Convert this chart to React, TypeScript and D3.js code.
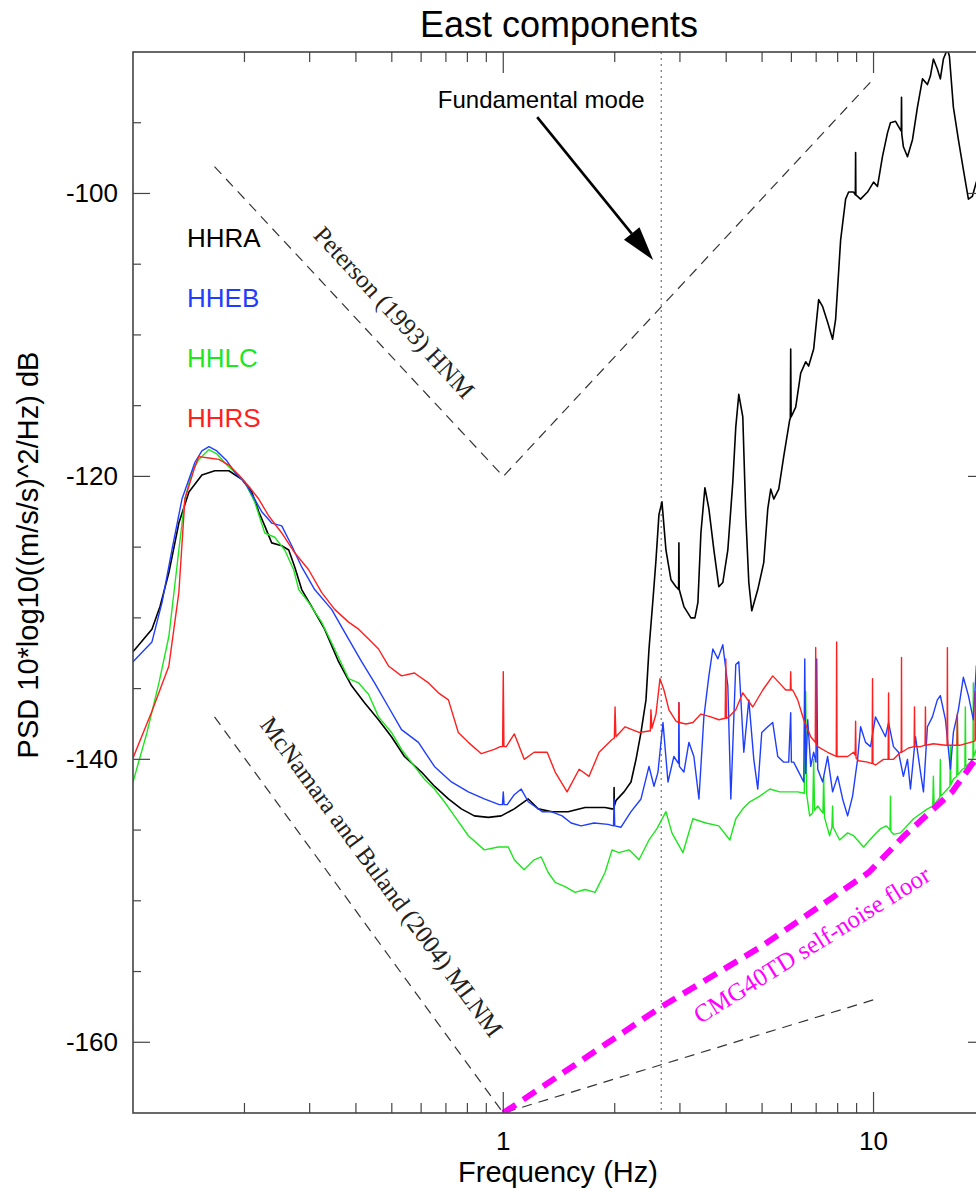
import React from 'react';
import * as d3 from 'd3';

type Pt = [number, number]; // [frequency (Hz), PSD (dB)]

// ---- PSD curves, east components -------------------------------------------
const hhra: Pt[] = [
  [0.1, -132.4], [0.1125, -130.8], [0.1183, -129.2], [0.125, -126.8], [0.133, -123.3], [0.1416, -121.1],
  [0.1535, -119.9], [0.1663, -119.6], [0.1815, -119.6], [0.1967, -120.2], [0.2093, -121.1], [0.2186, -122.5],
  [0.2269, -123.5], [0.2369, -124.7], [0.2522, -124.9], [0.2634, -125.2], [0.2734, -126.4], [0.2855, -128.0],
  [0.3038, -129.2], [0.3292, -130.8], [0.3591, -133.1], [0.3894, -134.8], [0.422, -136.0], [0.4603, -137.2],
  [0.499, -138.4], [0.5409, -139.8], [0.6012, -140.9], [0.6517, -141.9], [0.7109, -142.8], [0.7704, -143.5],
  [0.8353, -144.0], [0.9111, -144.1], [0.9876, -144.0], [1.071, -143.5], [1.168, -142.8], [1.243, -143.5],
  [1.355, -143.7], [1.497, -143.7], [1.663, -143.4], [1.883, -143.4], [1.967, -143.5], [1.99, -143.5],
  [1.992, -142.0], [1.995, -143.3], [2.017, -142.9], [2.119, -142.3], [2.213, -141.6], [2.283, -140.0],
  [2.355, -138.1], [2.429, -135.8], [2.475, -132.2], [2.537, -128.7], [2.585, -125.9], [2.633, -122.7],
  [2.683, -121.8], [2.75, -125.2], [2.837, -127.3], [2.927, -127.8], [2.975, -128.0], [2.981, -124.7],
  [2.987, -128.0], [3.075, -129.2], [3.212, -130.0], [3.293, -130.0], [3.355, -128.9], [3.418, -124.0],
  [3.504, -120.8], [3.592, -122.3], [3.705, -125.2], [3.821, -127.8], [3.917, -127.5], [4.041, -125.2],
  [4.168, -120.4], [4.246, -116.5], [4.326, -114.2], [4.435, -115.8], [4.519, -122.8], [4.604, -127.5],
  [4.69, -129.5], [4.868, -128.0], [5.052, -126.1], [5.18, -122.3], [5.277, -120.9], [5.377, -121.6],
  [5.546, -120.9], [5.72, -118.6], [5.937, -116.0], [5.96, -115.9], [5.974, -111.0], [5.99, -115.8],
  [6.163, -115.1], [6.358, -112.7], [6.557, -111.9], [6.68, -112.2], [6.891, -111.0], [7.109, -107.5],
  [7.288, -108.0], [7.516, -109.1], [7.753, -110.3], [7.899, -108.9], [8.149, -103.3], [8.406, -100.4],
  [8.564, -99.9], [8.834, -99.9], [8.93, -100.1], [8.945, -97.1], [8.96, -100.1], [9.226, -100.4],
  [9.634, -99.9], [10.0, -99.2], [10.25, -99.5], [10.57, -97.4], [10.91, -95.7], [11.11, -95.0],
  [11.47, -94.9], [11.82, -95.5], [11.88, -95.6], [11.9, -93.2], [11.92, -95.8], [12.04, -96.7],
  [12.35, -97.4], [12.74, -96.2], [13.14, -93.9], [13.56, -91.9], [13.98, -92.3], [14.24, -91.7],
  [14.51, -90.5], [14.87, -91.2], [15.15, -91.9], [15.44, -90.5], [15.83, -89.8], [16.03, -90.3],
  [16.43, -93.9], [16.95, -96.2], [17.48, -98.3], [18.04, -100.4], [18.49, -100.2], [18.95, -99.2],
  [20.0, -98.0],
];

const hheb: Pt[] = [
  [0.1, -133.1], [0.1125, -131.7], [0.1198, -128.9], [0.1274, -125.2], [0.1356, -121.6], [0.147, -119.0],
  [0.1535, -118.2], [0.1603, -117.9], [0.1684, -118.2], [0.1792, -118.9], [0.1883, -119.7], [0.2003, -120.4],
  [0.2131, -121.6], [0.2227, -122.5], [0.2369, -123.3], [0.2522, -123.5], [0.2684, -124.9], [0.2855, -126.4],
  [0.3095, -128.0], [0.3439, -129.4], [0.3822, -131.5], [0.4144, -133.1], [0.4492, -134.6], [0.4898, -136.3],
  [0.5311, -137.9], [0.59, -138.8], [0.6517, -140.5], [0.7244, -141.6], [0.8048, -142.3], [0.8887, -142.8],
  [0.9755, -143.2], [0.995, -143.2], [1.0, -142.3], [1.005, -143.2], [1.025, -143.2], [1.071, -142.5],
  [1.118, -142.1], [1.168, -143.0], [1.274, -143.7], [1.347, -143.7], [1.442, -144.0], [1.525, -144.5],
  [1.623, -144.7], [1.759, -144.5], [1.919, -144.6], [1.985, -144.7], [1.992, -142.8], [2.0, -144.7],
  [2.08, -144.8], [2.213, -143.7], [2.355, -142.8], [2.475, -140.5], [2.553, -141.9], [2.617, -140.9],
  [2.7, -137.4], [2.785, -141.6], [2.889, -139.8], [2.975, -140.3], [2.981, -136.0], [2.99, -140.5],
  [3.075, -140.9], [3.172, -138.8], [3.272, -139.8], [3.376, -142.8], [3.482, -137.0], [3.592, -134.1],
  [3.681, -132.2], [3.798, -132.9], [3.917, -131.9], [4.041, -134.8], [4.117, -142.8], [4.246, -133.3],
  [4.326, -133.1], [4.463, -139.5], [4.604, -135.8], [4.749, -140.0], [4.868, -142.1], [4.99, -138.1],
  [5.18, -137.7], [5.343, -137.4], [5.512, -139.8], [5.72, -140.2], [5.9, -140.2], [5.974, -136.7],
  [6.0, -140.2], [6.086, -140.2], [6.281, -140.9], [6.479, -141.6], [6.52, -132.9], [6.56, -141.0],
  [6.642, -137.2], [6.766, -140.5], [6.891, -139.5], [6.99, -140.2], [7.023, -132.9], [7.067, -140.7],
  [7.288, -141.6], [7.516, -139.8], [7.753, -142.3], [8.0, -141.2], [8.251, -142.8], [8.511, -144.0],
  [8.778, -142.6], [9.055, -140.0], [9.226, -137.7], [9.516, -138.8], [9.815, -139.1], [10.12, -137.0],
  [10.44, -137.7], [10.77, -138.4], [10.98, -137.4], [11.32, -139.1], [11.68, -139.5], [12.04, -141.2],
  [12.35, -140.0], [12.58, -142.1], [12.98, -138.4], [13.39, -140.9], [13.64, -142.3], [13.98, -137.7],
  [14.42, -137.0], [14.87, -135.8], [15.15, -135.5], [15.64, -137.2], [16.13, -140.7], [16.43, -138.1],
  [16.95, -136.5], [17.48, -134.2], [18.04, -135.5], [18.6, -137.2], [18.95, -133.4], [20.0, -135.0],
];

const hhlc: Pt[] = [
  [0.1, -141.6], [0.1091, -138.1], [0.1175, -134.6], [0.125, -131.3], [0.133, -125.2], [0.1381, -121.6],
  [0.1442, -119.7], [0.1506, -118.8], [0.1603, -118.1], [0.1684, -118.4], [0.1792, -119.2], [0.1883, -119.7],
  [0.2003, -120.4], [0.2131, -121.8], [0.2269, -124.0], [0.2414, -124.3], [0.2569, -125.2], [0.2716, -126.6],
  [0.2803, -128.0], [0.2981, -128.9], [0.3231, -130.3], [0.3503, -132.2], [0.3822, -134.3], [0.4067, -134.6],
  [0.4327, -135.4], [0.4603, -137.0], [0.499, -138.1], [0.5311, -139.3], [0.5755, -140.5], [0.6124, -141.4],
  [0.6517, -142.1], [0.6934, -143.0], [0.7378, -144.0], [0.8048, -145.4], [0.8887, -146.4], [0.9694, -146.2],
  [1.032, -146.2], [1.071, -147.1], [1.139, -147.8], [1.212, -147.1], [1.266, -146.9], [1.322, -148.0],
  [1.381, -148.7], [1.469, -149.0], [1.563, -149.4], [1.663, -149.2], [1.77, -149.4], [1.883, -148.0],
  [1.967, -146.4], [2.054, -146.6], [2.185, -146.4], [2.326, -147.1], [2.475, -145.7], [2.601, -144.9],
  [2.75, -143.7], [2.854, -145.2], [3.056, -146.6], [3.252, -144.2], [3.525, -144.5], [3.821, -144.7],
  [4.092, -145.7], [4.246, -144.2], [4.435, -143.5], [4.633, -143.0], [4.929, -142.6], [5.245, -142.1],
  [5.58, -142.3], [5.937, -142.3], [6.24, -142.3], [6.5, -142.4], [6.557, -135.2], [6.6, -142.5],
  [6.722, -144.0], [6.85, -143.8], [6.891, -140.0], [6.93, -143.6], [7.067, -143.3], [7.3, -143.8],
  [7.334, -141.2], [7.37, -144.1], [7.611, -145.4], [7.72, -144.8], [7.75, -143.3], [7.78, -144.8],
  [8.099, -145.7], [8.511, -145.2], [8.834, -145.4], [9.398, -146.2], [10.0, -145.4], [10.44, -144.9],
  [10.84, -144.7], [11.08, -145.0], [11.11, -142.6], [11.14, -145.1], [11.32, -145.3], [11.82, -145.2],
  [12.82, -144.2], [13.98, -143.5], [14.45, -143.3], [14.51, -141.2], [14.57, -143.2], [15.1, -142.7],
  [15.15, -140.0], [15.2, -142.6], [15.83, -142.1], [16.08, -141.9], [16.13, -139.1], [16.18, -141.8],
  [16.43, -141.4], [16.78, -141.2], [16.84, -137.2], [16.9, -141.1], [17.38, -140.7], [17.65, -140.6],
  [17.7, -136.3], [17.75, -140.5], [18.1, -140.3], [18.55, -140.0], [18.6, -134.6], [18.65, -139.8],
  [18.95, -139.3], [20.0, -138.2],
];

const hhrs: Pt[] = [
  [0.1, -139.9], [0.1125, -136.6], [0.125, -133.4], [0.133, -128.2], [0.1381, -121.6], [0.147, -119.3],
  [0.1506, -118.6], [0.1603, -118.7], [0.1705, -118.8], [0.1815, -119.2], [0.1931, -119.9], [0.2054, -120.7],
  [0.2186, -121.6], [0.2326, -122.8], [0.2522, -124.0], [0.2734, -125.4], [0.2981, -126.6], [0.3231, -128.2],
  [0.3503, -129.4], [0.3822, -130.3], [0.4067, -130.8], [0.4327, -131.5], [0.4603, -132.2], [0.4898, -133.4],
  [0.5311, -134.1], [0.5755, -133.9], [0.6281, -134.6], [0.668, -135.3], [0.7109, -135.8], [0.7561, -138.1],
  [0.8048, -138.8], [0.8724, -139.6], [0.9456, -139.3], [0.9815, -139.1], [0.996, -139.1], [1.0, -133.8],
  [1.004, -139.1], [1.019, -139.1], [1.071, -138.2], [1.139, -140.0], [1.212, -139.5], [1.314, -139.5],
  [1.381, -140.9], [1.487, -142.3], [1.603, -140.7], [1.705, -141.2], [1.815, -139.5], [1.967, -138.6],
  [1.995, -138.5], [2.004, -136.3], [2.015, -138.4], [2.133, -137.7], [2.326, -138.1], [2.475, -138.0],
  [2.495, -138.0], [2.505, -136.5], [2.52, -137.8], [2.585, -136.8], [2.65, -134.3], [2.716, -135.1],
  [2.802, -136.5], [2.927, -137.3], [2.975, -137.4], [2.981, -136.0], [2.99, -137.4], [3.113, -137.5],
  [3.252, -137.4], [3.418, -136.8], [3.636, -137.0], [3.821, -137.2], [3.975, -137.1], [3.99, -132.9],
  [4.005, -137.1], [4.065, -137.0], [4.246, -136.5], [4.435, -135.3], [4.719, -136.3], [5.022, -135.1],
  [5.343, -134.1], [5.614, -134.7], [5.792, -135.1], [5.96, -135.1], [5.974, -133.8], [5.99, -135.1],
  [6.048, -135.1], [6.24, -135.8], [6.479, -137.2], [6.766, -138.4], [6.96, -138.8], [6.979, -132.1],
  [7.0, -138.9], [7.067, -139.1], [7.516, -139.5], [7.802, -139.7], [7.93, -139.8], [7.95, -131.7],
  [7.97, -139.8], [8.149, -139.8], [8.511, -139.8], [8.834, -139.5], [8.92, -139.7], [8.945, -137.3],
  [8.97, -139.9], [9.113, -140.1], [9.634, -140.2], [9.91, -140.3], [9.938, -134.3], [9.965, -140.3],
  [10.12, -140.4], [10.64, -140.0], [10.95, -140.0], [10.98, -135.3], [11.01, -140.0], [11.32, -140.0],
  [11.82, -139.5], [11.88, -139.5], [11.9, -132.8], [11.92, -139.5], [12.43, -139.2], [12.87, -139.1],
  [12.9, -136.3], [12.93, -139.1], [13.39, -139.1], [13.78, -139.0], [13.81, -136.3], [13.84, -139.0],
  [14.51, -138.9], [15.64, -139.0], [15.8, -139.0], [15.83, -132.1], [15.86, -139.0], [16.13, -139.0],
  [16.8, -139.0], [16.84, -136.8], [16.88, -139.0], [17.16, -139.0], [18.26, -138.8], [18.8, -138.7],
  [18.83, -135.2], [18.86, -138.6], [18.95, -138.6], [20.0, -138.4],
];

// ---- Reference noise models ------------------------------------------------
const petersonHNM: Pt[] = [[0.166, -98.1], [1, -120], [10, -91.9]];
const mcnamaraMLNM: Pt[] = [[0.166, -137], [1, -165], [10, -157]];
const cmg40tdFloor: Pt[] = [
  [1, -165], [2.67, -157.5], [5, -153.2], [9.7, -148.0], [12, -145.5], [16.3, -142.3], [18.6, -140.2], [20, -139.2],
];
const fundamentalModeHz = 2.67;

// ---- Axis ticks ------------------------------------------------------------
const xTickLabels = [1, 10];
const yTickLabels = [-160, -140, -120, -100];

const SERIES = [
  { name: 'HHRA', color: '#000000', width: 1.6, data: hhra },
  { name: 'HHLC', color: '#1ee61e', width: 1.4, data: hhlc },
  { name: 'HHEB', color: '#1f3dff', width: 1.4, data: hheb },
  { name: 'HHRS', color: '#ff1f1f', width: 1.4, data: hhrs },
];
const LEGEND = ['HHRA', 'HHEB', 'HHLC', 'HHRS'];

const W = 976;
const H = 1192;
const PLOT = { left: 133, right: 985, top: 52, bottom: 1113 };
const SANS = '"Liberation Sans", Arial, Helvetica, sans-serif';
const SERIF = '"Liberation Serif", "Times New Roman", Times, serif';
const AXIS = '#444';

export default function App() {
  const x = d3.scaleLog().domain([0.1, 20]).range([PLOT.left, PLOT.right]);
  const y = d3.scaleLinear().domain([-165, -90]).range([PLOT.bottom, PLOT.top]);
  const line = d3.line<Pt>().x((d) => x(d[0])).y((d) => y(d[1]));

  const isDecade = (t: number) => Math.abs(Math.log10(t) - Math.round(Math.log10(t))) < 1e-9;
  const xTicks = x.ticks().filter((t) => t > 0.1 && t < 20);
  const yTicks = y.ticks(15).filter((t) => t > -165 && t < -90);

  // arrow pointing to the fundamental-mode peak
  const a0: [number, number] = [x(1.235), y(-94.6)];
  const a1: [number, number] = [x(2.54), y(-104.7)];
  const dx = a1[0] - a0[0];
  const dy = a1[1] - a0[1];
  const len = Math.hypot(dx, dy);
  const ux = dx / len;
  const uy = dy / len;
  const headL = 34;
  const headW = 10;
  const bx = a1[0] - ux * headL;
  const by = a1[1] - uy * headL;
  const head = [
    [a1[0], a1[1]],
    [bx - uy * headW, by + ux * headW],
    [bx + uy * headW, by - ux * headW],
  ]
    .map((p) => p.join(','))
    .join(' ');

  const legendColor = (n: string) => SERIES.find((s) => s.name === n)!.color;

  return (
    <div style={{ position: 'absolute', left: 0, top: 0 }}>
      <svg width={W} height={H} style={{ display: 'block', background: '#fff' }}>
        <defs>
          <clipPath id="plot-area">
            <rect x={PLOT.left} y={PLOT.top} width={PLOT.right - PLOT.left} height={PLOT.bottom - PLOT.top} />
          </clipPath>
        </defs>

        {/* title */}
        <text x={(PLOT.left + PLOT.right) / 2} y={37} textAnchor="middle" fontFamily={SANS} fontSize={36}>
          East components
        </text>

        <g clipPath="url(#plot-area)">
          {/* noise models */}
          <path d={line(petersonHNM)!} fill="none" stroke="#333" strokeWidth={1.2} strokeDasharray="10,7" />
          <path d={line(mcnamaraMLNM)!} fill="none" stroke="#333" strokeWidth={1.2} strokeDasharray="10,7" />

          {/* fundamental mode marker */}
          <line
            x1={x(fundamentalModeHz)}
            x2={x(fundamentalModeHz)}
            y1={PLOT.top}
            y2={PLOT.bottom}
            stroke="#555"
            strokeWidth={1}
            strokeDasharray="2,4"
          />

          {/* PSD curves */}
          {SERIES.map((s) => (
            <path key={s.name} d={line(s.data)!} fill="none" stroke={s.color} strokeWidth={s.width} strokeLinejoin="round" />
          ))}

          {/* sensor self-noise */}
          <path d={line(cmg40tdFloor)!} fill="none" stroke="#ff00ff" strokeWidth={6} strokeDasharray="15,9" />
        </g>

        {/* axes box */}
        <rect
          x={PLOT.left}
          y={PLOT.top}
          width={PLOT.right - PLOT.left}
          height={PLOT.bottom - PLOT.top}
          fill="none"
          stroke={AXIS}
          strokeWidth={1.6}
        />

        {/* x ticks (bottom and top, inward) */}
        {xTicks.map((t) => {
          const L = isDecade(t) ? 21 : 10;
          const px = x(t);
          return (
            <g key={'xt' + t} stroke={AXIS} strokeWidth={1.2}>
              <line x1={px} x2={px} y1={PLOT.bottom} y2={PLOT.bottom - L} />
              <line x1={px} x2={px} y1={PLOT.top} y2={PLOT.top + L} />
            </g>
          );
        })}
        {xTickLabels.map((t) => (
          <text key={'xl' + t} x={x(t)} y={1150} textAnchor="middle" fontFamily={SANS} fontSize={26}>
            {String(t)}
          </text>
        ))}

        {/* y ticks (left and right, inward) */}
        {yTicks.map((t) => {
          const L = t % 20 === 0 ? 17 : 8;
          const py = y(t);
          return (
            <g key={'yt' + t} stroke={AXIS} strokeWidth={1.2}>
              <line x1={PLOT.left} x2={PLOT.left + L} y1={py} y2={py} />
              <line x1={PLOT.right} x2={PLOT.right - L} y1={py} y2={py} />
            </g>
          );
        })}
        {yTickLabels.map((t) => (
          <text key={'yl' + t} x={118} y={y(t) + 9} textAnchor="end" fontFamily={SANS} fontSize={26}>
            {String(t)}
          </text>
        ))}

        {/* axis titles */}
        <text x={558} y={1182} textAnchor="middle" fontFamily={SANS} fontSize={29}>
          Frequency (Hz)
        </text>
        <text
          transform={`translate(38, 555) rotate(-90)`}
          textAnchor="middle"
          fontFamily={SANS}
          fontSize={29}
        >
          PSD 10*log10((m/s/s)^2/Hz) dB
        </text>

        {/* legend */}
        {LEGEND.map((n, i) => (
          <text key={n} x={187} y={247 + i * 60} fontFamily={SANS} fontSize={26} fill={legendColor(n)}>
            {n}
          </text>
        ))}

        {/* annotations */}
        <text x={x(1.266)} y={y(-93.95)} textAnchor="middle" fontFamily={SANS} fontSize={24}>
          Fundamental mode
        </text>
        <line x1={a0[0]} y1={a0[1]} x2={bx} y2={by} stroke="#000" strokeWidth={2.6} />
        <polygon points={head} fill="#000" />

        <text
          transform={`translate(${x(0.508)}, ${y(-108.4)}) rotate(47.3)`}
          textAnchor="middle"
          dominantBaseline="central"
          fontFamily={SERIF}
          fontSize={25}
          fill="#222"
        >
          Peterson (1993) HNM
        </text>
        <text
          transform={`translate(${x(0.469)}, ${y(-148.3)}) rotate(53.6)`}
          textAnchor="middle"
          dominantBaseline="central"
          fontFamily={SERIF}
          fontSize={25}
          fill="#222"
        >
          McNamara and Buland (2004) MLNM
        </text>
        <text
          transform={`translate(${x(6.81)}, ${y(-153.1)}) rotate(-32)`}
          textAnchor="middle"
          dominantBaseline="central"
          fontFamily={SERIF}
          fontSize={25}
          fill="#ff00ff"
        >
          CMG40TD self-noise floor
        </text>
      </svg>
    </div>
  );
}
